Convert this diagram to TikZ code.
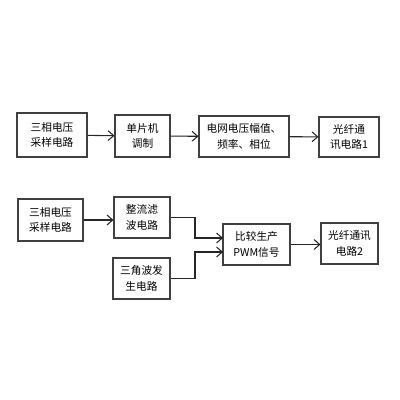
\documentclass[tikz,border=0pt]{standalone}
\usepackage{fontspec}
\setmainfont{Noto Sans CJK SC}
\usepackage{tikz}
\usetikzlibrary{arrows.meta}

\begin{document}
\begin{tikzpicture}[x=0.025cm, y=-0.025cm, every path/.style={line width=0.75pt}, main node/.style={draw=black!75, rectangle, align=center, inner sep=0pt, font=\fontsize{7.6}{11}\selectfont, text=black}, link/.style={draw=black!85, -{Straight Barb[length=4pt,width=7pt]}}]
\useasboundingbox (0,0) rectangle (400,400);
\node	[main node, minimum width=70*0.025cm, minimum height=44*0.025cm]	(1) at (52,135)		{三相电压\\采样电路};
\node	[main node, minimum width=55*0.025cm, minimum height=42*0.025cm]	(2) at (142.5,136)	{单片机\\调制};
\node	[main node, minimum width=90*0.025cm, minimum height=41*0.025cm]	(3) at (244,136.5)	{电网电压幅值、\\频率、相位};
\node	[main node, minimum width=60*0.025cm, minimum height=40*0.025cm]	(4) at (349,137)	{光纤通\\讯电路1};

\node	[main node, minimum width=65*0.025cm, minimum height=42*0.025cm]	(5) at (50.5,220)	{三相电压\\采样电路};
\node	[main node, minimum width=56*0.025cm, minimum height=41*0.025cm]	(6) at (142,217.5)	{整流滤\\波电路};
\node	[main node, minimum width=57*0.025cm, minimum height=41*0.025cm]	(7) at (141.5,278.5)	{三角波发\\生电路};
\node	[main node, minimum width=67*0.025cm, minimum height=41*0.025cm]	(8) at (256.5,244.5)	{比较生产\\PWM信号};
\node	[main node, minimum width=57*0.025cm, minimum height=41*0.025cm]	(9) at (349.5,243.5)	{光纤通讯\\电路2};

\coordinate (j) at (195,0);
\coordinate (in1) at (223,238);
\coordinate (in2) at (223,252);

\draw [link] (1) -- (2);
\draw [link] (2) -- (3);
\draw [link] (3) -- (4);
\draw [link] (5.east) -- (6.west |- 5.east);
\draw [link] (6.east) -- (6.east -| j) |- (in1);
\draw [link] (7.east) -- (7.east -| j) |- (in2);
\draw [link] (8.east) -- (9.west |- 8.east);
\end{tikzpicture}
\end{document}
